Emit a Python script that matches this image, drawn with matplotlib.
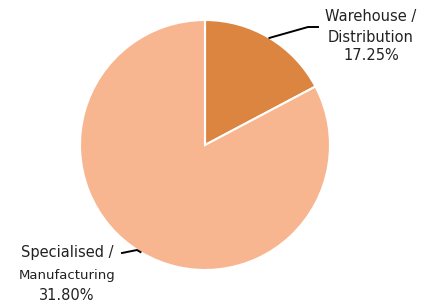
import numpy as np
import matplotlib.pyplot as plt

categories = ["Warehouse /\nDistribution", "Specialised /\nManufacturing"]
shares = [17.25, 82.75]          # slice sizes as drawn
share_labels = ["17.25%", "31.80%"]
colors = ["#DB8540", "#F8B690"]

W, H = 428, 305
fig = plt.figure(figsize=(W / 100, H / 100), dpi=100)
ax = fig.add_axes([0, 0, 1, 1])

cx, cy, r = 205, H - 145, 125
wedges, _ = ax.pie(shares, colors=colors, startangle=90, counterclock=False,
                   center=(cx, cy), radius=r, frame=True,
                   wedgeprops=dict(edgecolor="white", linewidth=1.5))
ax.set_xlim(0, W)
ax.set_ylim(0, H)
ax.axis("off")

# leader lines start at the middle of each wedge's arc
def edge_point(w):
    a = np.deg2rad((w.theta1 + w.theta2) / 2)
    return cx + r * np.cos(a), cy + r * np.sin(a)

x0, y0 = edge_point(wedges[0])
ax.plot([x0, 308, 318], [y0, H - 27, H - 27], color="black", lw=1.4)
x1, y1 = edge_point(wedges[1])
ax.plot([x1, 137, 122], [y1, H - 250, H - 253], color="black", lw=1.4)

fnt = "DejaVu Sans"
tc = "#222222"
ax.text(371, H - 17, "Warehouse /", ha="center", va="center", fontsize=10.5, family=fnt, color=tc)
ax.text(371, H - 37, "Distribution", ha="center", va="center", fontsize=10.5, family=fnt, color=tc)
ax.text(371, H - 56, share_labels[0], ha="center", va="center", fontsize=10.5, family=fnt, color=tc)

ax.text(67, H - 253, "Specialised /", ha="center", va="center", fontsize=10.5, family=fnt, color=tc)
ax.text(67, H - 275, "Manufacturing", ha="center", va="center", fontsize=9.5, family=fnt, color=tc)
ax.text(67, H - 295, share_labels[1], ha="center", va="center", fontsize=10.5, family=fnt, color=tc)

fig.savefig("out.png", dpi=100, facecolor="white")
